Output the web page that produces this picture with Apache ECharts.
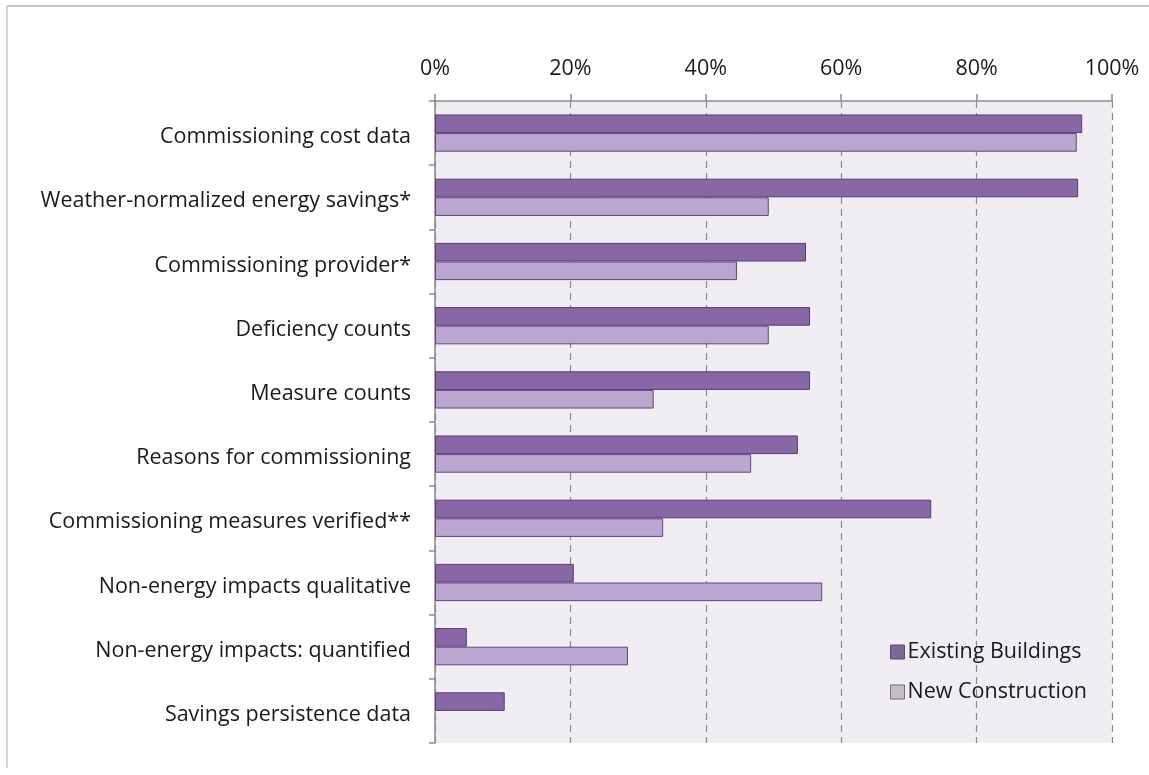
<!DOCTYPE html>
<html>
<head>
<meta charset="utf-8">
<script src="https://cdn.jsdelivr.net/npm/echarts@6/dist/echarts.min.js"></script>
<style>
  html, body { margin: 0; padding: 0; background: #ffffff; }
  #chart { width: 1149px; height: 775px; }
</style>
</head>
<body>
<div id="chart"></div>
<script>
// Data elements reported in commissioning studies (share of studies, %)
const categories = [
  'Commissioning cost data',
  'Weather-normalized energy savings*',
  'Commissioning provider*',
  'Deficiency counts',
  'Measure counts',
  'Reasons for commissioning',
  'Commissioning measures verified**',
  'Non-energy impacts qualitative',
  'Non-energy impacts: quantified',
  'Savings persistence data'
];
const existingBuildings = [95.6, 95.0, 54.8, 55.4, 55.4, 53.6, 73.3, 20.5, 4.7, 10.3];
const newConstruction   = [94.8, 49.3, 44.6, 49.3, 32.3, 46.7, 33.7, 57.2, 28.5, 0];
const seriesNames = ['Existing Buildings', 'New Construction'];

const font = '"Open Sans", Lato, sans-serif';
const fontSize = 21.5;
const chart = echarts.init(document.getElementById('chart'));

// zero-length bars get no outline so nothing shows for them
const asBars = values => values.map(v => (v === 0 ? { value: v, itemStyle: { borderWidth: 0 } } : v));

chart.setOption({
  backgroundColor: '#ffffff',
  animation: false,
  textStyle: { fontFamily: font },
  graphic: [
    { type: 'line', shape: { x1: 7, y1: 6, x2: 1149, y2: 6 }, style: { stroke: '#b4b4b4', lineWidth: 1.5 } },
    { type: 'line', shape: { x1: 7, y1: 6, x2: 7, y2: 768 }, style: { stroke: '#c4c4c4', lineWidth: 1.5 } }
  ],
  grid: {
    left: 435, right: 37, top: 101, bottom: 32,
    show: true, backgroundColor: '#f1eef3', borderWidth: 0
  },
  legend: {
    orient: 'vertical',
    left: 885, top: 636,
    itemWidth: 14, itemHeight: 14, itemGap: 18,
    icon: 'rect',
    textStyle: { fontSize: fontSize, color: '#1a1a1a', fontFamily: font, padding: [0, 0, 0, -2] },
    data: [
      { name: seriesNames[0], itemStyle: { color: '#7d6893', borderColor: '#5c4a70', borderWidth: 1 } },
      { name: seriesNames[1], itemStyle: { color: '#c3bec9', borderColor: '#75707a', borderWidth: 1 } }
    ]
  },
  xAxis: {
    type: 'value',
    position: 'top',
    min: 0, max: 100, interval: 20,
    axisLine: { show: true, lineStyle: { color: '#8c8c8c', width: 1.5 } },
    axisTick: { show: true, length: 7, lineStyle: { color: '#8c8c8c', width: 1.5 } },
    axisLabel: {
      formatter: '{value}%', fontSize: fontSize, color: '#1a1a1a', margin: 21, fontFamily: font
    },
    splitLine: { show: true, lineStyle: { color: '#8a8a8a', type: [7, 5], width: 1.2 } }
  },
  yAxis: {
    type: 'category',
    inverse: true,
    data: categories,
    axisLine: { show: true, lineStyle: { color: '#8c8c8c', width: 1.5 } },
    axisTick: { show: true, length: 6, lineStyle: { color: '#8c8c8c', width: 1.5 } },
    axisLabel: {
      fontSize: fontSize, color: '#1a1a1a', margin: 24, fontFamily: font,
      verticalAlign: 'top', lineHeight: 8
    }
  },
  series: [
    {
      name: seriesNames[0],
      type: 'bar',
      data: asBars(existingBuildings),
      barGap: '0%',
      barCategoryGap: '42%',
      itemStyle: { color: '#8867a7', borderColor: '#583c78', borderWidth: 1 }
    },
    {
      name: seriesNames[1],
      type: 'bar',
      data: asBars(newConstruction),
      itemStyle: { color: '#baa6cf', borderColor: '#5e4680', borderWidth: 1 }
    }
  ]
});
</script>
</body>
</html>
